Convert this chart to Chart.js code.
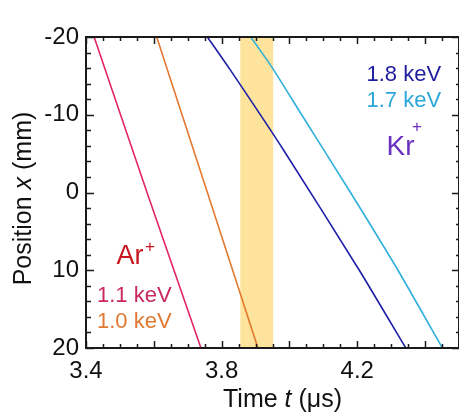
<!DOCTYPE html>
<html>
<head>
<meta charset="utf-8">
<script src="https://cdn.jsdelivr.net/npm/chart.js@4"></script>
<style>
  html, body { margin: 0; padding: 0; background: #fff; }
  #wrap { width: 459px; height: 412px; }
</style>
</head>
<body>
<div id="wrap"><canvas id="c" width="459" height="412"></canvas></div>
<script>
/* ---- data: arrival time t (us) vs position x (mm) ---- */
const ar11Time = [3.424, 3.580, 3.739];
const ar11Pos  = [-20, 0, 20];

const ar10Time = [3.6085, 3.758, 3.907];
const ar10Pos  = [-20, 0, 20];

const kr18Time = [3.758, 3.825, 3.982, 4.206, 4.343];
const kr18Pos  = [-20, -15.8, -5.5, 10.0, 20];

const kr17Time = [3.886, 3.950, 4.036, 4.180, 4.320, 4.451];
const kr17Pos  = [-20, -16, -10, 0, 10, 20];

const xTickValues = [3.4, 3.8, 4.2];
const yTickValues = [-20, -10, 0, 10, 20];
const bandRange = [3.855, 3.952];

const FONT = "'Liberation Sans', Arial, sans-serif";

function pts(ts, xs) {
  return ts.map((t, i) => ({ x: t, y: xs[i] }));
}

/* ---- yellow window behind the traces ---- */
const bandPlugin = {
  id: "band",
  beforeDatasetsDraw(chart) {
    const { ctx, chartArea: a, scales } = chart;
    const x0 = scales.x.getPixelForValue(bandRange[0]);
    const x1 = scales.x.getPixelForValue(bandRange[1]);
    ctx.save();
    ctx.fillStyle = "#fde39c";
    ctx.fillRect(x0, a.top, x1 - x0, a.bottom - a.top);
    ctx.restore();
  }
};

/* ---- box frame with inward ticks, titles, labels ---- */
const framePlugin = {
  id: "frame",
  afterDatasetsDraw(chart) {
    const { ctx, chartArea: a, scales } = chart;
    ctx.save();
    ctx.strokeStyle = "#1a1a1a";
    ctx.lineWidth = 2;
    ctx.strokeRect(a.left, a.top, a.right - a.left, a.bottom - a.top);

    ctx.lineWidth = 1.5;
    ctx.beginPath();
    for (let i = 0; i <= 22; i++) {
      const v = 3.4 + i * 0.05;
      const px = Math.round(scales.x.getPixelForValue(v)) + 0.5;
      const len = i % 4 === 0 ? 7 : 4;
      ctx.moveTo(px, a.bottom); ctx.lineTo(px, a.bottom - len);
      ctx.moveTo(px, a.top); ctx.lineTo(px, a.top + len);
    }
    for (let v = -20; v <= 20; v += 2) {
      const py = Math.round(scales.y.getPixelForValue(v)) + 0.5;
      const major = v % 10 === 0;
      ctx.moveTo(a.left, py); ctx.lineTo(a.left + (major ? 8 : 5), py);
      ctx.moveTo(a.right, py); ctx.lineTo(a.right - (major ? 7 : 3), py);
    }
    ctx.stroke();
    ctx.restore();
  },
  afterDraw(chart) {
    const { ctx } = chart;
    ctx.save();
    ctx.fillStyle = "#111";
    ctx.textBaseline = "alphabetic";
    ctx.textAlign = "left";

    // x title: Time t (us)
    const parts = [["Time ", ""], ["t", "italic "], [" (\u03bcs)", ""]];
    let w = 0;
    parts.forEach(p => { ctx.font = p[1] + "25px " + FONT; w += ctx.measureText(p[0]).width; });
    let x = 282.5 - w / 2;
    parts.forEach(p => {
      ctx.font = p[1] + "25px " + FONT;
      ctx.fillText(p[0], x, 406.5);
      x += ctx.measureText(p[0]).width;
    });

    // y title: Position x (mm)
    ctx.translate(31, 198.5);
    ctx.rotate(-Math.PI / 2);
    const yparts = [["Position ", ""], ["x", "italic "], [" (mm)", ""]];
    w = 0;
    yparts.forEach(p => { ctx.font = p[1] + "25px " + FONT; w += ctx.measureText(p[0]).width; });
    x = -w / 2;
    yparts.forEach(p => {
      ctx.font = p[1] + "25px " + FONT;
      ctx.fillText(p[0], x, 0);
      x += ctx.measureText(p[0]).width;
    });
    ctx.restore();

    // labels inside the plot
    ctx.save();
    ctx.textAlign = "left";
    ctx.textBaseline = "alphabetic";
    const put = (txt, size, color, px, py) => {
      ctx.font = size + "px " + FONT;
      ctx.fillStyle = color;
      ctx.fillText(txt, px, py);
    };
    put("1.8 keV", 22, "#1d1d9e", 366.5, 81);
    put("1.7 keV", 22, "#2ba8d8", 366.5, 106.5);
    put("Kr", 28, "#6a30c0", 386.5, 154.5);
    put("+", 17, "#6a30c0", 412, 132);
    put("Ar", 27, "#c8161e", 116.5, 264);
    put("+", 17, "#c8161e", 145, 252);
    put("1.1 keV", 22, "#c8285e", 97, 301.5);
    put("1.0 keV", 22, "#e07a32", 97, 327.5);
    ctx.restore();
  }
};

new Chart(document.getElementById("c"), {
  type: "scatter",
  data: {
    datasets: [
      { data: pts(ar11Time, ar11Pos), borderColor: "#e3256b" },
      { data: pts(ar10Time, ar10Pos), borderColor: "#e4782f" },
      { data: pts(kr18Time, kr18Pos), borderColor: "#1e1ea8" },
      { data: pts(kr17Time, kr17Pos), borderColor: "#2fb0da" }
    ].map(d => Object.assign(d, {
      showLine: true,
      borderWidth: 1.6,
      pointRadius: 0,
      tension: 0.2
    }))
  },
  options: {
    responsive: false,
    animation: false,
    devicePixelRatio: 1,
    layout: { padding: { top: 37, right: 0, left: 0, bottom: 0 } },
    plugins: { legend: { display: false }, tooltip: { enabled: false } },
    scales: {
      x: {
        type: "linear",
        min: 3.4,
        max: 4.5,
        grid: { display: false, drawTicks: false },
        border: { display: false },
        ticks: {
          autoSkip: false,
          maxRotation: 0,
          padding: 9,
          color: "#111",
          font: { family: FONT, size: 24 },
          callback: v => v.toFixed(1)
        },
        afterBuildTicks: s => { s.ticks = xTickValues.map(v => ({ value: v })); },
        afterFit: s => { s.height = 64; }
      },
      y: {
        type: "linear",
        min: -20,
        max: 20,
        reverse: true,
        grid: { display: false, drawTicks: false },
        border: { display: false },
        ticks: {
          autoSkip: false,
          padding: 7,
          color: "#111",
          font: { family: FONT, size: 24 },
          callback: v => String(v)
        },
        afterBuildTicks: s => { s.ticks = yTickValues.map(v => ({ value: v })); },
        afterFit: s => { s.width = 86; }
      }
    }
  },
  plugins: [bandPlugin, framePlugin]
});
</script>
</body>
</html>
